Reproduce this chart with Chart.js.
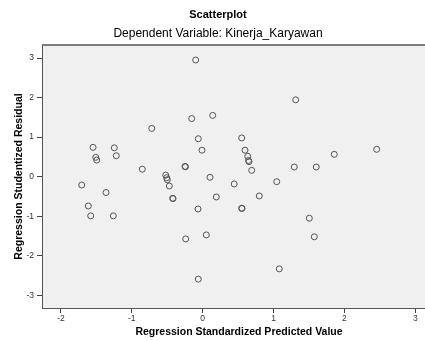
<!DOCTYPE html>
<html>
<head>
<meta charset="utf-8">
<title>Scatterplot</title>
<script src="https://cdn.jsdelivr.net/npm/chart.js@4/dist/chart.umd.min.js"></script>
<style>
  html, body { margin: 0; padding: 0; background: #fff; overflow: hidden; }
  canvas { display: block; }
</style>
</head>
<body>
<canvas id="chart" width="442" height="340"></canvas>
<script>
// Regression standardized predicted value (x) vs studentized residual (y)
const predicted = [
  -1.547, -1.509, -1.495, -1.247, -1.219, -1.707, -1.364, -1.614, -1.580, -1.261,
  -0.099, -0.155, 0.141, -0.719, -0.062, 0.550, -0.010, 0.597, 0.635, 0.646,
  0.653, 0.691, -0.852, -0.250, -0.243, -0.522, -0.508, -0.499, -0.471, -0.423,
  -0.419, 0.103, 0.444, 1.044, -0.066, 0.192, 0.798, 0.550, 0.554, -0.240,
  0.051, -0.062, 1.080, 1.312, 1.856, 2.454, 1.292, 1.602, 1.504, 1.574
];
const residual = [
  0.742, 0.490, 0.420, 0.730, 0.530, -0.210, -0.400, -0.740, -0.990, -0.990,
  2.950, 1.470, 1.550, 1.220, 0.960, 0.980, 0.670, 0.670, 0.515, 0.410,
  0.380, 0.160, 0.190, 0.260, 0.250, 0.040, -0.025, -0.076, -0.235, -0.545,
  -0.553, -0.015, -0.184, -0.126, -0.816, -0.513, -0.487, -0.798, -0.803, -1.573,
  -1.472, -2.590, -2.330, 1.944, 0.566, 0.692, 0.245, 0.245, -1.050, -1.520
];
const xTicks = [-2, -1, 0, 1, 2, 3];
const yTicks = [-3, -2, -1, 0, 1, 2, 3];

const FONT = "'Liberation Sans', Arial, sans-serif";

// grey plot background + top frame line, like the SPSS output
const plotFrame = {
  id: 'plotFrame',
  beforeDraw(c) {
    const a = c.chartArea;
    const ctx = c.ctx;
    ctx.save();
    ctx.fillStyle = '#f0f0f0';
    ctx.fillRect(a.left, a.top, a.right - a.left, a.bottom - a.top);
    ctx.strokeStyle = '#555';
    ctx.lineWidth = 1.5;
    ctx.beginPath();
    ctx.moveTo(a.left, a.top);
    ctx.lineTo(a.right, a.top);
    ctx.stroke();
    ctx.restore();
  }
};

new Chart(document.getElementById('chart'), {
  type: 'scatter',
  data: {
    datasets: [{
      data: predicted.map((x, i) => ({x: x, y: residual[i]})),
      pointStyle: 'circle',
      pointRadius: 3,
      pointHoverRadius: 3,
      borderWidth: 1,
      borderColor: '#555',
      backgroundColor: 'rgba(0,0,0,0)'
    }]
  },
  options: {
    responsive: false,
    devicePixelRatio: 1,
    animation: false,
    layout: {padding: {left: 0, right: 6, top: 0, bottom: 0}},
    plugins: {
      legend: {display: false},
      tooltip: {enabled: false},
      title: {
        display: true,
        text: 'Scatterplot',
        color: '#000',
        font: {family: FONT, size: 11, weight: 'bold'},
        padding: {top: 8.5, bottom: 4.5}
      },
      subtitle: {
        display: true,
        text: 'Dependent Variable: Kinerja_Karyawan',
        color: '#000',
        font: {family: FONT, size: 12},
        padding: {top: 0, bottom: 4.4}
      }
    },
    scales: {
      x: {
        type: 'linear',
        min: -2.267,
        max: 3.291,
        afterFit: s => { s.height = 32; },
        afterBuildTicks: s => { s.ticks = xTicks.map(v => ({value: v})); },
        grid: {drawOnChartArea: false, drawTicks: true, tickLength: 5, tickColor: '#444'},
        border: {display: true, color: '#555', width: 1},
        ticks: {color: '#333', font: {family: FONT, size: 8.5}, padding: 1, maxRotation: 0},
        title: {
          display: true,
          text: 'Regression Standardized Predicted Value',
          color: '#000',
          font: {family: FONT, size: 10.5, weight: 'bold'},
          padding: {top: 0, bottom: 2}
        }
      },
      y: {
        type: 'linear',
        min: -3.32,
        max: 3.33,
        afterFit: s => { s.width = 42; },
        afterBuildTicks: s => { s.ticks = yTicks.map(v => ({value: v})); },
        grid: {drawOnChartArea: false, drawTicks: true, tickLength: 5, tickColor: '#444'},
        border: {display: true, color: '#555', width: 1},
        ticks: {color: '#333', font: {family: FONT, size: 8.5}, padding: 3},
        title: {
          display: true,
          text: 'Regression Studentized Residual',
          color: '#000',
          font: {family: FONT, size: 10.5, weight: 'bold'},
          padding: {top: 12.5, bottom: 0}
        }
      }
    }
  },
  plugins: [plotFrame]
});
</script>
</body>
</html>
